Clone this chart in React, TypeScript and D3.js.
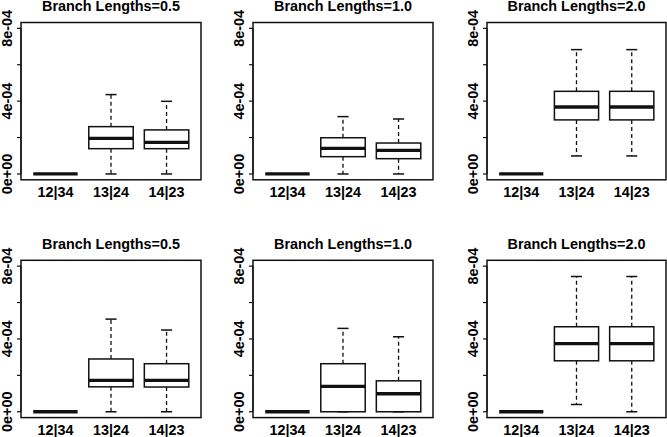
import React from "react";
import * as d3 from "d3";

const categories = ["12|34", "13|24", "14|23"];
const titles = [
  "Branch Lengths=0.5",
  "Branch Lengths=1.0",
  "Branch Lengths=2.0",
  "Branch Lengths=0.5",
  "Branch Lengths=1.0",
  "Branch Lengths=2.0",
];
// stats per box: [lower whisker, Q1, median, Q3, upper whisker] in units of 1e-4
const panel1 = [[0, 0, 0, 0, 0], [0, 1.39, 1.96, 2.6, 4.36], [0, 1.39, 1.74, 2.42, 3.99]];
const panel2 = [[0, 0, 0, 0, 0], [0, 0.95, 1.41, 1.99, 3.15], [0, 0.84, 1.3, 1.7, 3.02]];
const panel3 = [[0, 0, 0, 0, 0], [0.99, 2.97, 3.68, 4.54, 6.83], [0.99, 2.97, 3.68, 4.54, 6.83]];
const panel4 = [[0, 0, 0, 0, 0], [0, 1.37, 1.72, 2.9, 5.09], [0, 1.36, 1.72, 2.64, 4.49]];
const panel5 = [[0, 0, 0, 0, 0], [0, 0, 1.39, 2.64, 4.58], [0, 0, 0.99, 1.7, 4.12]];
const panel6 = [[0, 0, 0, 0, 0], [0.4, 2.8, 3.74, 4.67, 7.43], [0, 2.8, 3.74, 4.67, 7.43]];
const panels = [panel1, panel2, panel3, panel4, panel5, panel6];
const yTicks = [0, 2e-4, 4e-4, 6e-4, 8e-4];
const yTickLabels: Record<number, string> = { 0: "0e+00", 4: "4e-04", 8: "8e-04" };

const colLeft = [21, 253, 487];
const colRight = [201, 433, 666];
const rowTop = [22.5, 260.3];
const rowBottom = [179.8, 417.6];

const FONT = "'Liberation Sans', Arial, Helvetica, sans-serif";
const FS = 14.4;
const INK = "#111";

function Panel({ idx }: { idx: number }) {
  const col = idx % 3;
  const row = Math.floor(idx / 3);
  const left = colLeft[col];
  const right = colRight[col];
  const top = rowTop[row];
  const bottom = rowBottom[row];
  const x = d3.scaleLinear().domain([0.38, 3.62]).range([left, right]);
  const y = d3.scaleLinear().domain([-0.32e-4, 8.32e-4]).range([bottom, top]);
  const data = panels[idx];
  const bw = x(1.4) - x(1);
  const cw = bw / 2;
  return (
    <g>
      <text
        x={(left + right) / 2}
        y={top - 11.6}
        textAnchor="middle"
        fontFamily={FONT}
        fontWeight="bold"
        fontSize={FS}
        fill="#000"
      >
        {titles[idx]}
      </text>
      {data.map((s, i) => {
        const cx = x(i + 1);
        const v = s.map((d) => d * 1e-4);
        return (
          <g key={i}>
            <line x1={cx} x2={cx} y1={y(v[3])} y2={y(v[4])} stroke={INK} strokeWidth={1.3} strokeDasharray="4,3" />
            <line x1={cx} x2={cx} y1={y(v[1])} y2={y(v[0])} stroke={INK} strokeWidth={1.3} strokeDasharray="4,3" />
            <line x1={cx - cw / 2} x2={cx + cw / 2} y1={y(v[4])} y2={y(v[4])} stroke={INK} strokeWidth={1.5} />
            <line x1={cx - cw / 2} x2={cx + cw / 2} y1={y(v[0])} y2={y(v[0])} stroke={INK} strokeWidth={1.5} />
            <rect
              x={cx - bw}
              y={y(v[3])}
              width={bw * 2}
              height={Math.max(0, y(v[1]) - y(v[3]))}
              fill="#fff"
              stroke={INK}
              strokeWidth={1.5}
            />
            <line x1={cx - bw} x2={cx + bw} y1={y(v[2])} y2={y(v[2])} stroke={INK} strokeWidth={3.3} />
            <text
              x={cx}
              y={bottom + 17}
              textAnchor="middle"
              fontFamily={FONT}
              fontWeight="bold"
              fontSize={FS}
              fill="#000"
            >
              {categories[i]}
            </text>
          </g>
        );
      })}
      <rect x={left} y={top} width={right - left} height={bottom - top} fill="none" stroke={INK} strokeWidth={1.5} />
      <line x1={left} x2={left} y1={y(yTicks[0])} y2={y(yTicks[yTicks.length - 1])} stroke={INK} strokeWidth={1.2} />
      {yTicks.map((t) => {
        const key = Math.round(t * 1e4);
        const lab = yTickLabels[key];
        return (
          <g key={key}>
            <line x1={left - 4} x2={left} y1={y(t)} y2={y(t)} stroke={INK} strokeWidth={1.2} />
            {lab && (
              <text
                transform={`translate(${left - 8.8},${y(t)}) rotate(-90)`}
                textAnchor="middle"
                fontFamily={FONT}
                fontWeight="bold"
                fontSize={FS}
                fill="#000"
              >
                {lab}
              </text>
            )}
          </g>
        );
      })}
    </g>
  );
}

export default function App() {
  return (
    <svg
      width={667}
      height={437}
      style={{ position: "absolute", left: 0, top: 0, background: "#fff" }}
    >
      <rect x={0} y={0} width={667} height={437} fill="#fff" />
      {titles.map((_, i) => (
        <Panel key={i} idx={i} />
      ))}
    </svg>
  );
}
